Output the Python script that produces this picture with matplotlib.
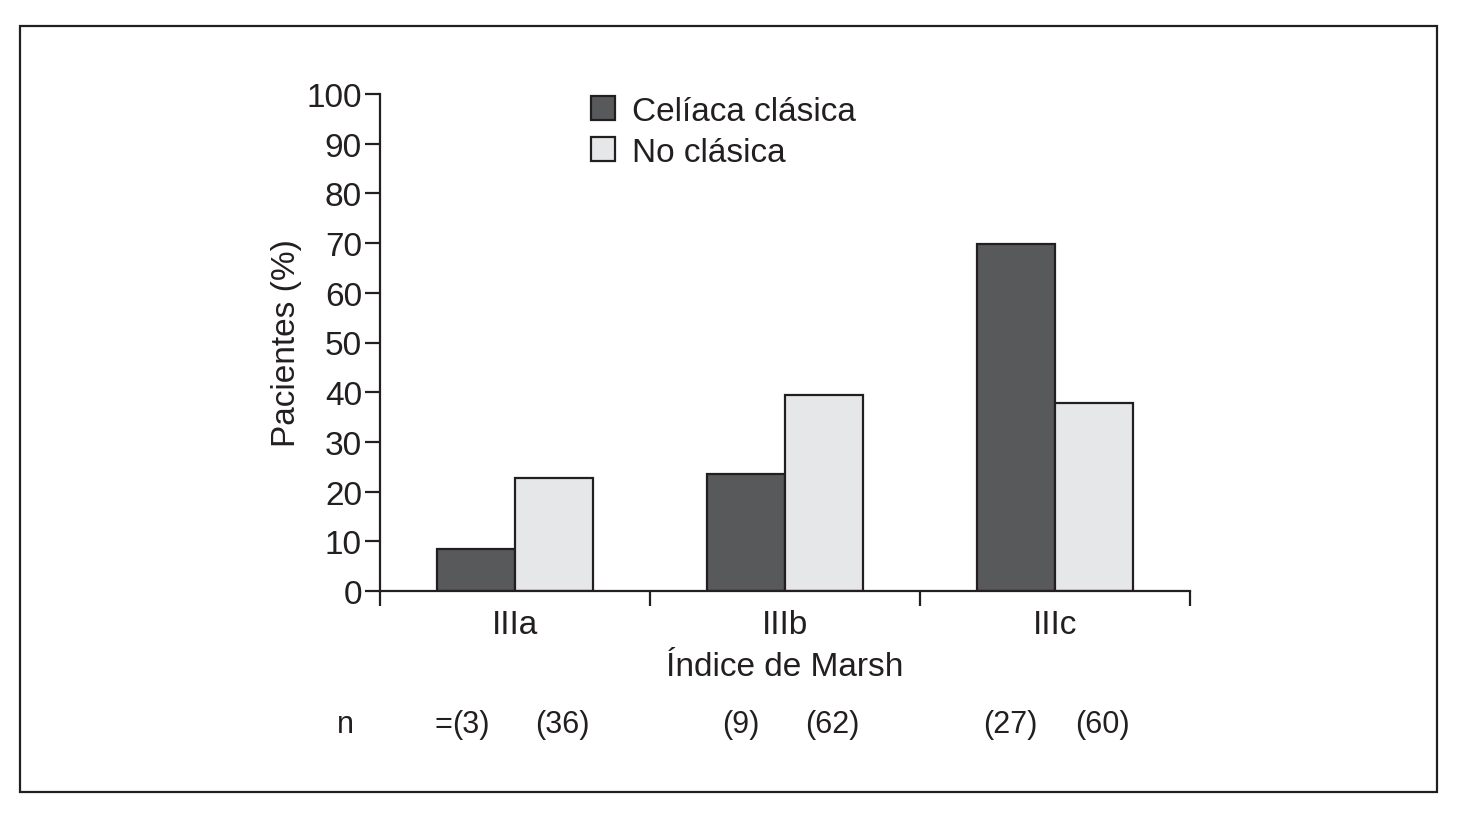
import numpy as np
import matplotlib
matplotlib.use("Agg")
import matplotlib.pyplot as plt
from matplotlib.patches import Rectangle
import matplotlib.transforms as mtransforms

# data
categories = ["IIIa", "IIIb", "IIIc"]
clasica = [8.5, 23.6, 69.8]
no_clasica = [22.8, 39.5, 37.9]
n_clasica = ["(3)", "(9)", "(27)"]
n_no_clasica = ["(36)", "(62)", "(60)"]
series_names = ["Celíaca clásica", "No clásica"]

TXT = "#231f20"
DARK = "#58595b"
LIGHT = "#e6e7e8"

plt.rcParams["font.family"] = ["Liberation Sans", "DejaVu Sans"]
plt.rcParams["text.color"] = TXT


def main():
    fig = plt.figure(figsize=(14.66, 8.2), dpi=100)
    W, H = 1466.0, 820.0
    # axes placed in pixel terms of the reference
    ax = fig.add_axes([380 / W, 1 - 592 / H, (1190 - 380) / W, (592 - 95) / H])

    fs = 24
    x = np.arange(len(categories))
    w = 0.29
    ax.bar(x - w / 2, clasica, w, color=DARK, edgecolor=TXT, linewidth=1.6,
           label=series_names[0])
    ax.bar(x + w / 2, no_clasica, w, color=LIGHT, edgecolor=TXT, linewidth=1.6,
           label=series_names[1])

    ax.set_xlim(-0.5, 2.5)
    ax.set_ylim(0, 100)
    for s in ["top", "right"]:
        ax.spines[s].set_visible(False)
    for s in ["left", "bottom"]:
        ax.spines[s].set_linewidth(1.6)
        ax.spines[s].set_color(TXT)

    ax.set_yticks(np.arange(0, 101, 10))
    ax.tick_params(axis="y", length=11, width=1.6, pad=2, labelsize=fs,
                   colors=TXT, direction="out")
    ax.set_xticks([-0.5, 0.5, 1.5, 2.5])
    ax.set_xticklabels([])
    ax.tick_params(axis="x", which="major", length=11, width=1.6, colors=TXT,
                   direction="out")
    ax.set_xticks(x, minor=True)
    ax.set_xticklabels(categories, minor=True)
    ax.tick_params(axis="x", which="minor", length=0, pad=13, labelsize=fs,
                   labelcolor=TXT)

    ax.set_xlabel("Índice de Marsh", fontsize=fs, color=TXT, labelpad=8)
    ax.set_ylabel("Pacientes (%)", fontsize=fs, color=TXT, labelpad=3)

    ax.legend(loc="upper left", bbox_to_anchor=(591 / W, 1 - 97 / H),
              bbox_transform=fig.transFigure, frameon=False, fontsize=fs,
              handlelength=0.72, handleheight=0.72, handletextpad=0.5,
              labelspacing=0.3, borderpad=0, borderaxespad=0)

    # n row under the bars
    trans = mtransforms.blended_transform_factory(ax.transData, fig.transFigure)
    ny = 1 - 725 / H
    nfont = dict(fontsize=22, color=TXT, va="center", ha="center",
                 family=["Liberation Sans Narrow", "Liberation Sans", "DejaVu Sans"])
    for i in range(len(categories)):
        ax.text(x[i] - w / 2 - 0.02, ny, n_clasica[i], transform=trans,
                clip_on=False, **nfont)
        ax.text(x[i] + w / 2 + 0.03, ny, n_no_clasica[i], transform=trans,
                clip_on=False, **nfont)
    fig.text(345 / W, ny, "n", **nfont)
    fig.text(443 / W, ny, "=", **nfont)

    # outer frame
    fig.patches.append(Rectangle((20 / W, 1 - 793 / H), (1437 - 20) / W, (793 - 27) / H,
                                 transform=fig.transFigure, fill=False,
                                 edgecolor=TXT, linewidth=1.6))

    fig.savefig("out.png", dpi=100)


if __name__ == "__main__":
    main()
